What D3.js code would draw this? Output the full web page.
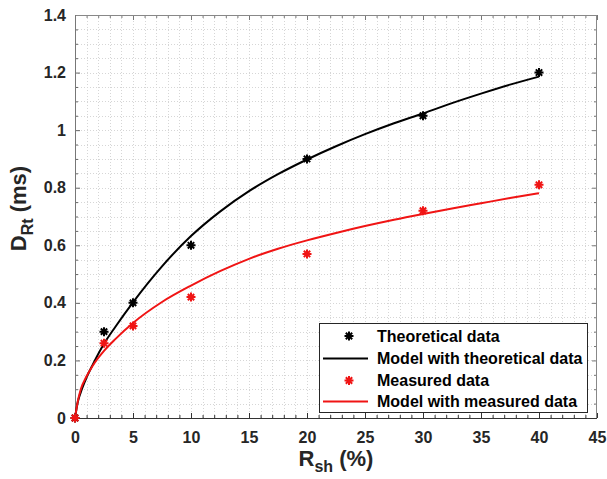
<!DOCTYPE html>
<html>
<head>
<meta charset="utf-8">
<script src="https://cdn.jsdelivr.net/npm/d3@7"></script>
<style>
  html, body { margin: 0; padding: 0; background: #fff; }
  svg { display: block; font-family: "Liberation Sans", Arial, Helvetica, sans-serif; }
</style>
</head>
<body>
<svg id="chart" width="607" height="479"></svg>
<script>
// Shunt resistance ratio (%) at which delay was evaluated
const rsh = [0, 2.5, 5, 10, 20, 30, 40];
const theoretical = [0, 0.30, 0.40, 0.60, 0.90, 1.05, 1.20];
const measured = [0, 0.26, 0.32, 0.42, 0.57, 0.72, 0.81];

// Fitted model curves sampled along R_sh
const modelX = [0, 0.25, 0.5, 1, 1.5, 2.5, 3.5, 5, 7.5, 10, 12.5, 15, 17.5, 20, 22.5, 25, 27.5, 30, 32.5, 35, 37.5, 40];
const modelTheoretical = [0, 0.057, 0.09, 0.141, 0.183, 0.258, 0.318, 0.402, 0.527, 0.632, 0.717, 0.788, 0.847, 0.898, 0.944, 0.986, 1.024, 1.058, 1.094, 1.127, 1.158, 1.186];
const modelMeasured = [0, 0.06, 0.1, 0.145, 0.18, 0.233, 0.275, 0.33, 0.403, 0.46, 0.51, 0.553, 0.588, 0.617, 0.643, 0.667, 0.689, 0.709, 0.728, 0.746, 0.764, 0.781];

const xTicks = [0, 5, 10, 15, 20, 25, 30, 35, 40, 45];
const yTicks = [0, 0.2, 0.4, 0.6, 0.8, 1.0, 1.2, 1.4];
const legendLabels = ["Theoretical data", "Model with theoretical data", "Measured data", "Model with measured data"];

const svg = d3.select("#chart");
const plot = { left: 75, right: 597, top: 15, bottom: 418 };

const x = d3.scaleLinear().domain([0, 45]).range([plot.left, plot.right]);
const y = d3.scaleLinear().domain([0, 1.4]).range([plot.bottom, plot.top]);

const BLACK = "#000000";
const RED = "#f01414";

// grid (minor every 1 % and 0.05 ms)
const gx = d3.range(1, 45, 1);
const gy = d3.range(1, 28).map(i => +(i * 0.05).toFixed(2));
const grid = svg.append("g").attr("stroke", "#d6d6d6").attr("stroke-width", 1).attr("stroke-dasharray", "1,2");
grid.selectAll("line.vx").data(gx).join("line")
  .attr("x1", d => Math.round(x(d)) + 0.5).attr("x2", d => Math.round(x(d)) + 0.5)
  .attr("y1", plot.top).attr("y2", plot.bottom);
grid.selectAll("line.hy").data(gy).join("line")
  .attr("y1", d => Math.round(y(d)) + 0.5).attr("y2", d => Math.round(y(d)) + 0.5)
  .attr("x1", plot.left).attr("x2", plot.right);

// axes with inward ticks on all four sides
const tickColor = "#262626";
function styleAxis(g, color) {
  g.select(".domain").remove();
  g.selectAll(".tick line").attr("stroke", color);
  g.selectAll(".tick text").attr("fill", tickColor).attr("font-size", 16).attr("font-weight", "bold");
}
const minorX = d3.range(0, 46, 1).filter(v => v % 5 !== 0);
const minorY = d3.range(0, 29).map(i => +(i * 0.05).toFixed(2)).filter(v => Math.abs(v / 0.2 - Math.round(v / 0.2)) > 1e-6);

const bottomAxis = svg.append("g").attr("transform", `translate(0,${plot.bottom})`)
  .call(d3.axisBottom(x).tickValues(xTicks).tickSize(-5).tickPadding(14).tickFormat(d3.format("d")));
styleAxis(bottomAxis, "#333");
svg.append("g").attr("transform", `translate(0,${plot.bottom})`)
  .call(d3.axisBottom(x).tickValues(minorX).tickSize(-3).tickFormat(""))
  .call(g => styleAxis(g, "#333"));

const topAxis = svg.append("g").attr("transform", `translate(0,${plot.top})`)
  .call(d3.axisTop(x).tickValues(xTicks).tickSize(-5).tickFormat(""));
styleAxis(topAxis, "#777");
svg.append("g").attr("transform", `translate(0,${plot.top})`)
  .call(d3.axisTop(x).tickValues(minorX).tickSize(-3).tickFormat(""))
  .call(g => styleAxis(g, "#777"));

const leftAxis = svg.append("g").attr("transform", `translate(${plot.left},0)`)
  .call(d3.axisLeft(y).tickValues(yTicks).tickSize(-5).tickPadding(9).tickFormat(d => d3.format("~g")(d)));
styleAxis(leftAxis, "#666");
svg.append("g").attr("transform", `translate(${plot.left},0)`)
  .call(d3.axisLeft(y).tickValues(minorY).tickSize(-3).tickFormat(""))
  .call(g => styleAxis(g, "#666"));

const rightAxis = svg.append("g").attr("transform", `translate(${plot.right},0)`)
  .call(d3.axisRight(y).tickValues(yTicks).tickSize(-5).tickFormat(""));
styleAxis(rightAxis, "#777");
svg.append("g").attr("transform", `translate(${plot.right},0)`)
  .call(d3.axisRight(y).tickValues(minorY).tickSize(-3).tickFormat(""))
  .call(g => styleAxis(g, "#777"));

// plot box
svg.append("line").attr("x1", plot.left).attr("x2", plot.right).attr("y1", plot.bottom + 0.5).attr("y2", plot.bottom + 0.5).attr("stroke", "#333");
svg.append("line").attr("x1", plot.left).attr("x2", plot.right).attr("y1", plot.top + 0.5).attr("y2", plot.top + 0.5).attr("stroke", "#888");
svg.append("line").attr("x1", plot.left + 0.5).attr("x2", plot.left + 0.5).attr("y1", plot.top).attr("y2", plot.bottom).attr("stroke", "#777");
svg.append("line").attr("x1", plot.right - 0.5).attr("x2", plot.right - 0.5).attr("y1", plot.top).attr("y2", plot.bottom).attr("stroke", "#888");

// model curves
const line = d3.line().x(d => x(d[0])).y(d => y(d[1])).curve(d3.curveMonotoneX);
svg.append("path").datum(d3.zip(modelX, modelTheoretical)).attr("d", line)
  .attr("fill", "none").attr("stroke", BLACK).attr("stroke-width", 2);
svg.append("path").datum(d3.zip(modelX, modelMeasured)).attr("d", line)
  .attr("fill", "none").attr("stroke", RED).attr("stroke-width", 2);

// asterisk markers
const r = 4.5;
const starPath = (() => {
  const p = d3.path();
  for (let k = 0; k < 4; k++) {
    const a = k * Math.PI / 4;
    p.moveTo(-r * Math.cos(a), -r * Math.sin(a));
    p.lineTo(r * Math.cos(a), r * Math.sin(a));
  }
  return p.toString();
})();
function stars(xs, ys, color) {
  svg.append("g").selectAll("path").data(d3.zip(xs, ys)).join("path")
    .attr("d", starPath)
    .attr("transform", d => `translate(${x(d[0])},${y(d[1])})`)
    .attr("stroke", color).attr("stroke-width", 2).attr("fill", "none");
}
stars(rsh, theoretical, BLACK);
stars(rsh, measured, RED);

// axis labels
const xl = svg.append("text").attr("x", (plot.left + plot.right) / 2).attr("y", 466)
  .attr("text-anchor", "middle").attr("font-size", 22).attr("font-weight", "bold").attr("fill", tickColor);
xl.append("tspan").text("R");
xl.append("tspan").attr("font-size", 16).attr("dy", 6).text("sh");
xl.append("tspan").attr("dy", -6).text(" (%)");

const yl = svg.append("text").attr("transform", `translate(26,${(plot.top + plot.bottom) / 2 - 8}) rotate(-90)`)
  .attr("text-anchor", "middle").attr("font-size", 22).attr("font-weight", "bold").attr("fill", tickColor);
yl.append("tspan").text("D");
yl.append("tspan").attr("font-size", 16).attr("dy", 7).text("Rt");
yl.append("tspan").attr("dy", -7).text(" (ms)");

// legend
const lg = { left: 319, top: 323, right: 587, bottom: 412 };
svg.append("rect").attr("x", lg.left + 0.5).attr("y", lg.top + 0.5)
  .attr("width", lg.right - lg.left).attr("height", lg.bottom - lg.top)
  .attr("fill", "#fff").attr("stroke", "#262626").attr("stroke-width", 1);
const rowY = [336, 358.5, 380.5, 401.5];
const kinds = [["marker", BLACK], ["line", BLACK], ["marker", RED], ["line", RED]];
kinds.forEach(([kind, color], i) => {
  if (kind === "marker") {
    svg.append("path").attr("d", starPath).attr("transform", `translate(349,${rowY[i]})`)
      .attr("stroke", color).attr("stroke-width", 2).attr("fill", "none");
  } else {
    svg.append("line").attr("x1", 323).attr("x2", 368).attr("y1", rowY[i]).attr("y2", rowY[i])
      .attr("stroke", color).attr("stroke-width", 2);
  }
  svg.append("text").attr("x", 377).attr("y", rowY[i] + 5.5)
    .attr("font-size", 16).attr("font-weight", "bold").attr("fill", "#000").text(legendLabels[i]);
});
</script>
</body>
</html>
